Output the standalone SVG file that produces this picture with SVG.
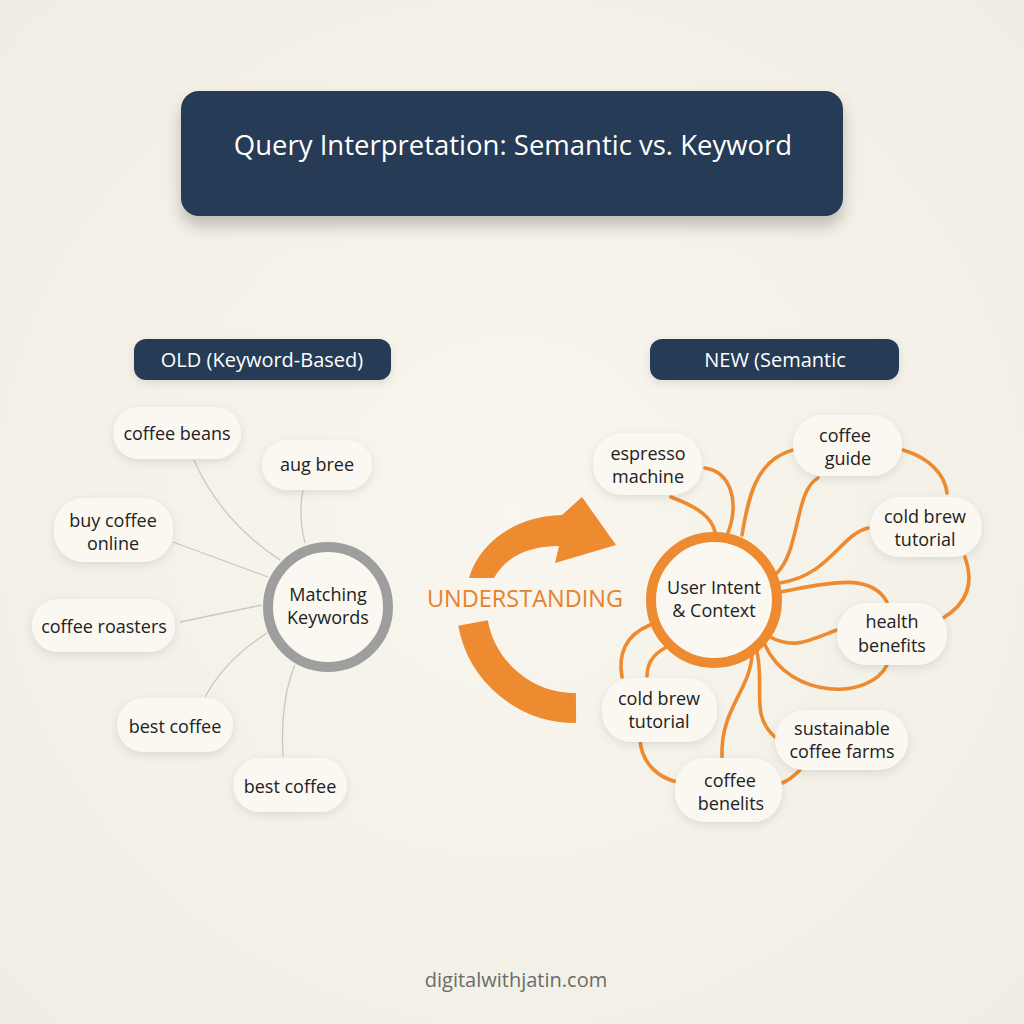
<svg xmlns="http://www.w3.org/2000/svg" width="1024" height="1024" viewBox="0 0 1024 1024">
  <defs>
    <radialGradient id="bg" cx="0.5" cy="0.5" r="0.7">
      <stop offset="0" stop-color="#f8f6ee"/>
      <stop offset="1" stop-color="#f1ede4"/>
    </radialGradient>
    <filter id="sh" x="-30%" y="-30%" width="160%" height="170%">
      <feDropShadow dx="0" dy="3" stdDeviation="4" flood-color="#000" flood-opacity="0.10"/>
    </filter>
    <filter id="tsh" x="-10%" y="-20%" width="120%" height="160%">
      <feDropShadow dx="0" dy="10" stdDeviation="8" flood-color="#000" flood-opacity="0.22"/>
    </filter>
    <style>
      .pill { fill: #faf8f1; filter: url(#sh); }
      .dark { fill: #283a55; }
      .t { font-family: "Open Sans", "Noto Sans", sans-serif; fill: #222222; font-size: 18px; text-anchor: middle; }
      .w { font-family: "Open Sans", "Noto Sans", sans-serif; fill: #ffffff; text-anchor: middle; }
      .gl { fill: none; stroke: #c9c7bf; stroke-width: 1.3; }
      .ol { fill: none; stroke: #ee8a30; stroke-width: 3.6; stroke-linecap: round; }
    </style>
  </defs>
  <rect width="1024" height="1024" fill="url(#bg)"/>

  <g id="title">
    <rect x="181" y="91" width="662" height="125" rx="18" class="dark" filter="url(#tsh)"/>
    <text x="513" y="155" class="w" font-size="27.5">Query Interpretation: Semantic vs. Keyword</text>
  </g>

  <g id="old-label">
    <rect x="134" y="339" width="257" height="41" rx="12" class="dark" filter="url(#sh)"/>
    <text x="262" y="367" class="w" font-size="20">OLD (Keyword-Based)</text>
  </g>
  <g id="new-label">
    <rect x="650" y="339" width="249" height="41" rx="12" class="dark" filter="url(#sh)"/>
    <text x="775" y="367" class="w" font-size="20">NEW (Semantic</text>
  </g>

  <g id="connectors">
    <path class="gl" d="M194 460 Q220 520 280 560"/>
    <path class="gl" d="M303 490 Q298 515 305 543"/>
    <path class="gl" d="M173 542 L268 577"/>
    <path class="gl" d="M180 622 L262 605"/>
    <path class="gl" d="M205 697 Q225 660 267 633"/>
    <path class="gl" d="M283 757 Q280 700 295 665"/>

    <path class="ol" d="M671 497 C700 508 712 518 715 532"/>
    <path class="ol" d="M705 468 C730 472 740 500 728 533"/>
    <path class="ol" d="M793 450 C755 460 748 500 742 535"/>
    <path class="ol" d="M818 478 C795 490 800 550 777 573"/>
    <path class="ol" d="M903 450 C930 458 945 475 947 493"/>
    <path class="ol" d="M868 528 C840 535 830 575 780 583"/>
    <path class="ol" d="M780 592 C820 585 870 570 887 602"/>
    <path class="ol" d="M965 557 C975 585 965 605 943 618"/>
    <path class="ol" d="M837 630 C810 640 795 650 770 637"/>
    <path class="ol" d="M887 665 C870 700 790 700 765 645"/>
    <path class="ol" d="M650 625 C625 635 618 655 622 677"/>
    <path class="ol" d="M665 648 C652 655 647 665 647 676"/>
    <path class="ol" d="M752 655 C750 690 720 710 722 757"/>
    <path class="ol" d="M757 652 C765 690 750 715 775 737"/>
    <path class="ol" d="M640 740 C642 765 660 778 677 782"/>
    <path class="ol" d="M782 783 C790 780 795 775 800 770"/>
  </g>

  <g id="arrow">
    <path d="M469 578 C479 544 514 516 562 515 L582 497 L616 545 L555 563 L559 546 C530 546 506 556 494 578 Z" fill="#ee8a30"/>
    <path d="M473 623 A104 104 0 0 0 576 708" fill="none" stroke="#ee8a30" stroke-width="30"/>
    <text x="525" y="607" font-family="Open Sans, Noto Sans, sans-serif" font-size="23.5" fill="#e8822a" text-anchor="middle">UNDERSTANDING</text>
  </g>

  <g id="matching-keywords">
    <circle cx="328" cy="607" r="60" fill="#faf8f1" stroke="#9e9e9e" stroke-width="10"/>
    <text x="328" y="601" class="t" font-size="16.5">Matching</text>
    <text x="328" y="624" class="t" font-size="16.5">Keywords</text>
  </g>

  <g id="n-coffee-beans"><rect x="113" y="407" width="128" height="52" rx="26" class="pill"/><text x="177" y="440" class="t">coffee beans</text></g>
  <g id="n-aug-bree"><rect x="262" y="440" width="110" height="50" rx="25" class="pill"/><text x="317" y="471" class="t">aug bree</text></g>
  <g id="n-buy-coffee"><rect x="54" y="498" width="119" height="64" rx="30" class="pill"/><text x="113" y="527" class="t">buy coffee</text><text x="113" y="550" class="t">online</text></g>
  <g id="n-coffee-roasters"><rect x="32" y="599" width="143" height="53" rx="26" class="pill"/><text x="104" y="633" class="t">coffee roasters</text></g>
  <g id="n-best-coffee-1"><rect x="117" y="698" width="116" height="54" rx="27" class="pill"/><text x="175" y="733" class="t">best coffee</text></g>
  <g id="n-best-coffee-2"><rect x="233" y="758" width="114" height="54" rx="27" class="pill"/><text x="290" y="793" class="t">best coffee</text></g>

  <g id="user-intent">
    <circle cx="714" cy="600" r="63" fill="#faf8f1" stroke="#ee8a30" stroke-width="10"/>
    <text x="714" y="594" class="t" font-size="17">User Intent</text>
    <text x="714" y="617" class="t" font-size="17">&amp; Context</text>
  </g>

  <g id="n-espresso"><rect x="593" y="433" width="109" height="62" rx="30" class="pill"/><text x="648" y="460" class="t">espresso</text><text x="648" y="483" class="t">machine</text></g>
  <g id="n-coffee-guide"><rect x="793" y="415" width="109" height="61" rx="30" class="pill"/><text x="845" y="442" class="t">coffee</text><text x="848" y="465" class="t">guide</text></g>
  <g id="n-cold-brew-r"><rect x="870" y="497" width="112" height="60" rx="30" class="pill"/><text x="925" y="523" class="t">cold brew</text><text x="925" y="546" class="t">tutorial</text></g>
  <g id="n-health"><rect x="837" y="603" width="110" height="62" rx="30" class="pill"/><text x="892" y="628" class="t">health</text><text x="892" y="652" class="t">benefits</text></g>
  <g id="n-cold-brew-l"><rect x="602" y="678" width="115" height="64" rx="30" class="pill"/><text x="659" y="705" class="t">cold brew</text><text x="659" y="728" class="t">tutorial</text></g>
  <g id="n-sustainable"><rect x="775" y="710" width="133" height="60" rx="30" class="pill"/><text x="842" y="735" class="t">sustainable</text><text x="842" y="758" class="t">coffee farms</text></g>
  <g id="n-coffee-benelits"><rect x="675" y="758" width="107" height="64" rx="30" class="pill"/><text x="730" y="787" class="t">coffee</text><text x="731" y="810" class="t">benelits</text></g>

  <text x="516" y="987" font-family="Open Sans, Noto Sans, sans-serif" font-size="20" fill="#6b6b6b" text-anchor="middle">digitalwithjatin.com</text>
</svg>
